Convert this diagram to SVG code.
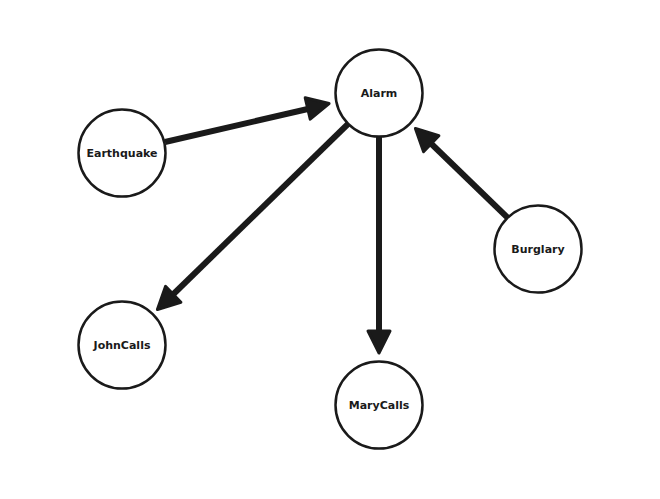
<svg xmlns="http://www.w3.org/2000/svg" width="660" height="499" viewBox="0 0 660 499">
<style>
.node circle{fill:#fff;stroke:#1a1a1a;stroke-width:2.5}
.node text{font-family:"DejaVu Sans",sans-serif;font-weight:bold;font-size:11px;fill:#1a1a1a;text-anchor:middle;dominant-baseline:central}
.edge line{stroke:#1a1a1a;stroke-width:6}
.edge polygon{fill:#1a1a1a;stroke:#1a1a1a;stroke-width:3;stroke-linejoin:round}
</style>
<rect width="660" height="499" fill="#fff"/>
<g id="connectors">
<g class="edge"><line x1="165" y1="142" x2="310" y2="108.5"/><polygon points="329.1,103.5 310.2,119.2 305.2,97.8"/></g>
<g class="edge"><line x1="508" y1="218" x2="431" y2="143.5"/><polygon points="415.4,128.4 438.9,135.8 423.5,151.6"/></g>
<g class="edge"><line x1="348" y1="124" x2="173" y2="294.5"/><polygon points="157.4,309.6 180.9,302.2 165.5,286.4"/></g>
<g class="edge"><line x1="379" y1="137" x2="379" y2="333"/><polygon points="379,353 368,331 390,331"/></g>
</g>
<g id="Alarm" class="node"><circle cx="379" cy="93" r="43.5"/><text x="379" y="93">Alarm</text></g>
<g id="Earthquake" class="node"><circle cx="122" cy="153" r="43.5"/><text x="122" y="153">Earthquake</text></g>
<g id="Burglary" class="node"><circle cx="538" cy="249" r="43.5"/><text x="538" y="249">Burglary</text></g>
<g id="JohnCalls" class="node"><circle cx="122" cy="345" r="43.5"/><text x="122" y="345">JohnCalls</text></g>
<g id="MaryCalls" class="node"><circle cx="379" cy="405" r="43.5"/><text x="379" y="405">MaryCalls</text></g>
</svg>
